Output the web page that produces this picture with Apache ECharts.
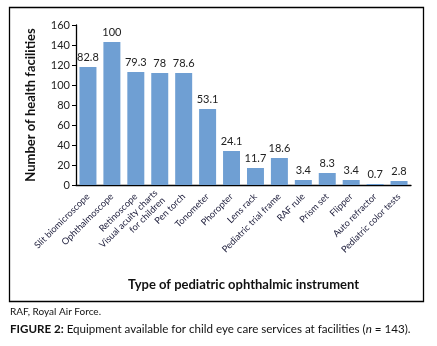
<!DOCTYPE html>
<html>
<head>
<meta charset="utf-8">
<script src="https://cdn.jsdelivr.net/npm/echarts@6/dist/echarts.min.js"></script>
<style>
  html, body { margin: 0; padding: 0; background: #fff; }
  #chart { width: 437px; height: 346px; }
</style>
</head>
<body>
<div id="chart"></div>
<script>
// instruments on the x axis
const instruments = [
  'Slit biomicroscope', 'Ophthalmoscope', 'Retinoscope',
  'Visual acuity charts\nfor children', 'Pen torch', 'Tonometer',
  'Phoropter', 'Lens rack', 'Pediatric trial frame', 'RAF rule',
  'Prism set', 'Flipper', 'Auto refractor', 'Pediatric color tests'
];
// number of facilities (bar heights)
const facilities = [118, 143, 113, 112, 112, 76, 34, 17, 27, 5, 12, 5, 1, 4];
// percentage labels shown above bars
const percents = ['82.8', '100', '79.3', '78', '78.6', '53.1', '24.1', '11.7', '18.6', '3.4', '8.3', '3.4', '0.7', '2.8'];
const yTicks = [0, 20, 40, 60, 80, 100, 120, 140, 160];

const font = 'Lato, "Open Sans", sans-serif';
const chart = echarts.init(document.getElementById('chart'));

const option = {
  animation: false,
  textStyle: { fontFamily: font },
  grid: { left: 76, right: 26, top: 25, bottom: 161 },
  xAxis: {
    type: 'category',
    data: instruments,
    name: 'Type of pediatric ophthalmic instrument',
    nameLocation: 'middle',
    nameGap: 93,
    nameTextStyle: { fontFamily: font, fontWeight: 'bold', fontSize: 13, color: '#111' },
    axisLine: { lineStyle: { color: '#000', width: 1.3 } },
    axisTick: { alignWithLabel: false, length: 4, lineStyle: { color: '#000' } },
    axisLabel: {
      interval: 0, rotate: 45, fontSize: 9.2, color: '#1c1c3a',
      margin: 10, lineHeight: 10.5, align: 'right'
    }
  },
  yAxis: {
    type: 'value',
    min: yTicks[0],
    max: yTicks[yTicks.length - 1],
    interval: 20,
    name: 'Number of health facilities',
    nameLocation: 'middle',
    nameGap: 39,
    nameTextStyle: { fontFamily: font, fontWeight: 'bold', fontSize: 13, color: '#111' },
    axisLine: { show: true, lineStyle: { color: '#000', width: 1.3 } },
    axisTick: { show: true, length: 4, lineStyle: { color: '#000' } },
    splitLine: { show: false },
    axisLabel: { fontSize: 11, color: '#222', margin: 6 }
  },
  series: [{
    type: 'bar',
    data: facilities,
    barCategoryGap: '29%',
    itemStyle: { color: '#6f9fd3' },
    label: {
      show: true,
      position: 'top',
      distance: 4,
      fontSize: 11,
      color: '#222',
      formatter: p => percents[p.dataIndex]
    }
  }],
  graphic: [
    {
      type: 'rect',
      shape: { x: 9.5, y: 7.5, width: 414, height: 294 },
      style: { fill: 'none', stroke: '#000', lineWidth: 1.3 },
      silent: true
    },
    {
      type: 'text', left: 10, top: 307,
      style: { text: 'RAF, Royal Air Force.', font: '10px ' + font, fill: '#111' }
    },
    {
      type: 'text', left: 10, top: 323,
      style: {
        text: '{b|FIGURE 2:} Equipment available for child eye care services at facilities ({i|n} = 143).',
        font: '11.6px ' + font, fill: '#111',
        rich: {
          b: { fontWeight: 'bold', fontSize: 11.6, fontFamily: font, fill: '#111' },
          i: { fontStyle: 'italic', fontSize: 11.6, fontFamily: font, fill: '#111' }
        }
      }
    }
  ]
};

chart.setOption(option);
</script>
</body>
</html>
